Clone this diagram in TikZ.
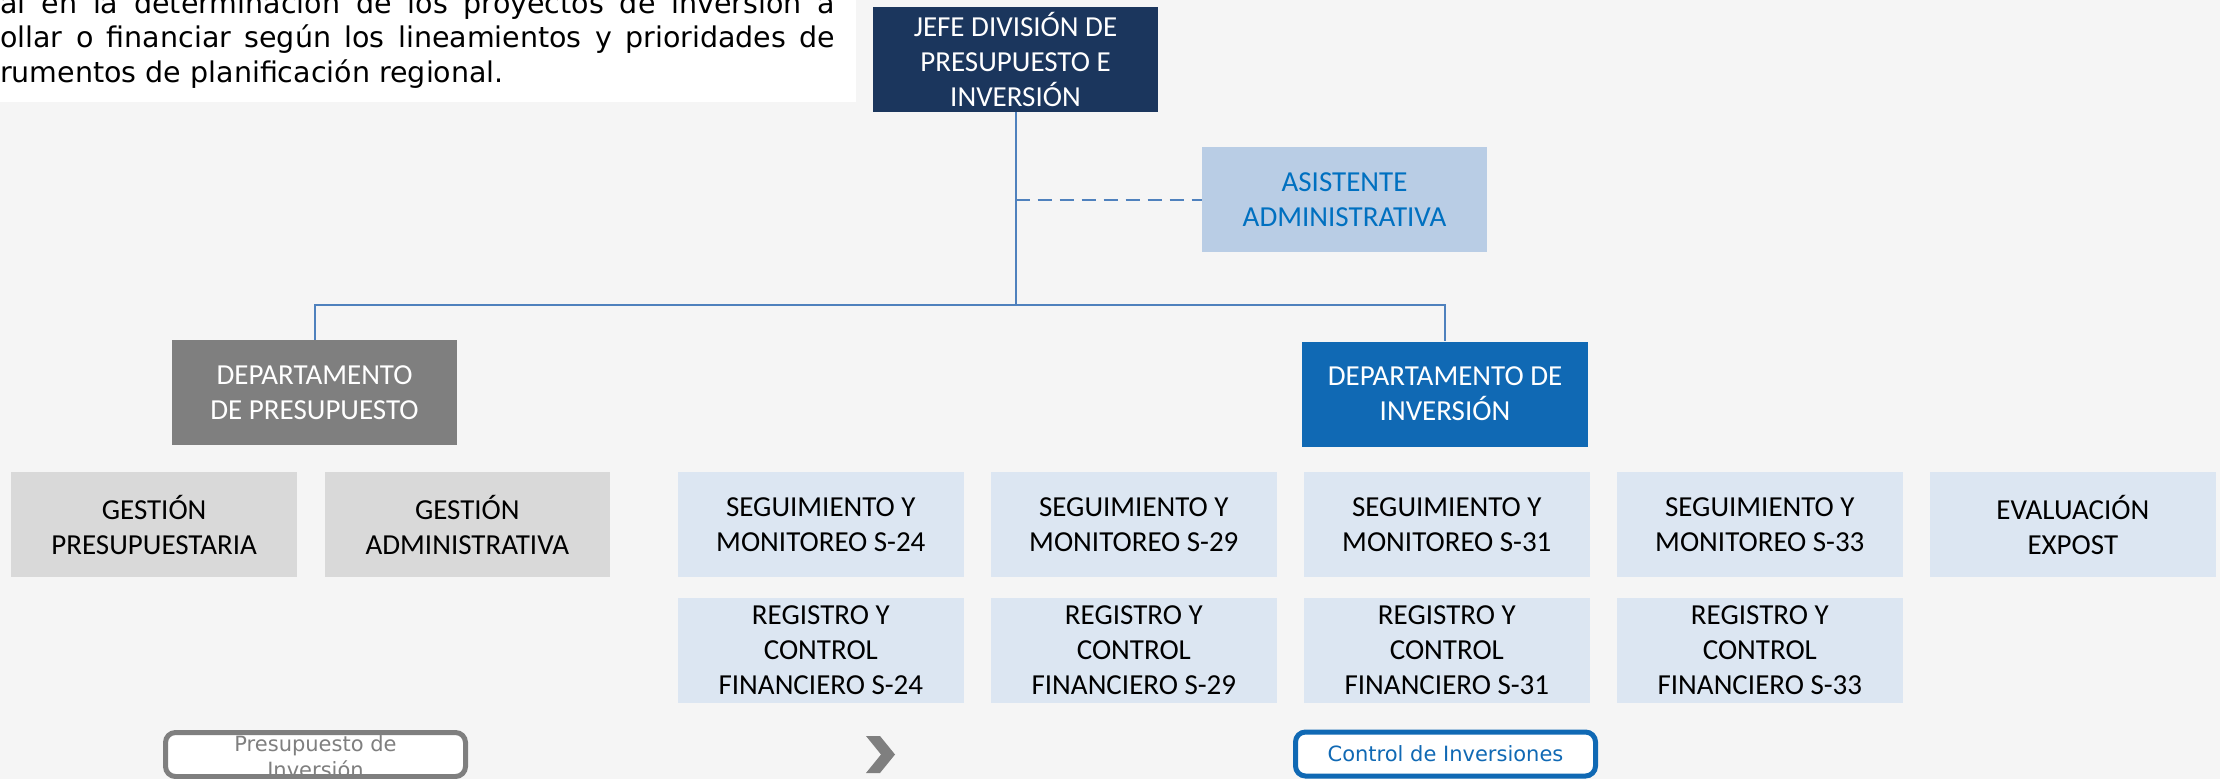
\documentclass[tikz,border=0pt]{standalone}
\usepackage{fontspec}
\setmainfont{Carlito}
\newfontfamily\verdana{DejaVu Sans}
\usepackage{tikz}
\usetikzlibrary{matrix}

\definecolor{fondo}{RGB}{245,245,245}
\definecolor{azuljefe}{RGB}{27,54,93}
\definecolor{celeste}{RGB}{185,205,229}
\definecolor{azultexto}{RGB}{0,112,192}
\definecolor{grisdep}{RGB}{127,127,127}
\definecolor{azuldep}{RGB}{16,105,180}
\definecolor{cajaazul}{RGB}{220,230,242}
\definecolor{cajagris}{RGB}{217,217,217}
\definecolor{linea}{RGB}{79,129,189}

\tikzset{
  caja/.style={minimum width=285.5pt, minimum height=105pt, inner sep=0pt, align=center, font=\fontsize{29}{35}\selectfont},
  seg/.style={caja, fill=cajaazul},
  ges/.style={caja, fill=cajagris},
  conector/.style={draw=linea, line width=2pt},
  discontinua/.style={dash pattern=on 14pt off 8pt},
  boton/.style={rounded corners=10pt, line width=5pt, fill=white, minimum width=300pt, minimum height=44pt, inner sep=0pt},
  rotulo/.style={align=center, font=\verdana\fontsize{21}{26}\selectfont}
}

\begin{document}
\begin{tikzpicture}[x=1pt, y=-1pt]
  \fill[fondo] (0,0) rectangle (2220,779);
  \useasboundingbox (0,0) rectangle (2220,779);
  \clip (0,0) rectangle (2220,779);
  % texto de la funcion
  \fill[white] (0,0) rectangle (856,102);
  \node[anchor=north west, inner sep=0pt, align=left, font=\verdana\fontsize{28.5}{34.5}\selectfont] (mision) at (0,-9.8) {%
    \makebox[835pt][s]{al en la determinación de los proyectos de inversión a}\\
    \makebox[835pt][s]{ollar o financiar según los lineamientos y prioridades de}\\
    rumentos de planificación regional.};
  % jefatura y departamentos
  \node[caja, fill=azuljefe, text=white] (jefe) at (1015.5,59.5) {JEFE DIVISIÓN DE\\PRESUPUESTO E\\INVERSIÓN};
  \node[caja, fill=celeste, text=azultexto] (asistente) at (1344.5,199.5) {ASISTENTE\\ADMINISTRATIVA};
  \node[caja, fill=grisdep, text=white] (deppres) at (314.5,392.5) {DEPARTAMENTO\\DE PRESUPUESTO};
  \node[caja, fill=azuldep, text=white] (depinv) at (1445,394) {DEPARTAMENTO DE\\INVERSIÓN};
  \coordinate (cruce) at (jefe.south |- 0,305);
  \coordinate (enlace) at (jefe.south |- asistente.west);
  \draw[conector] (jefe.south) -- (cruce);
  \draw[conector] (cruce) -| (deppres.north);
  \draw[conector] (cruce) -| (depinv.north);
  \draw[conector, discontinua] (enlace) -- (asistente.west);
  % unidades
  \matrix (m) [anchor=north west, inner sep=0pt, column sep=27.5pt, row sep=20pt] at (11,472)
  {
    \node[ges] (gespres) {GESTIÓN\\PRESUPUESTARIA}; &
    \node[ges] (gesadm) {GESTIÓN\\ADMINISTRATIVA}; &[40.5pt]
    \node[seg] (seg24) {SEGUIMIENTO Y\\MONITOREO S-24}; &
    \node[seg] (seg29) {SEGUIMIENTO Y\\MONITOREO S-29}; &
    \node[seg] (seg31) {SEGUIMIENTO Y\\MONITOREO S-31}; &
    \node[seg] (seg33) {SEGUIMIENTO Y\\MONITOREO S-33}; &
    \node[seg] (evaluacion) {EVALUACIÓN\\EXPOST}; \\
    & &
    \node[seg] (reg24) {REGISTRO Y\\CONTROL\\FINANCIERO S-24}; &
    \node[seg] (reg29) {REGISTRO Y\\CONTROL\\FINANCIERO S-29}; &
    \node[seg] (reg31) {REGISTRO Y\\CONTROL\\FINANCIERO S-31}; &
    \node[seg] (reg33) {REGISTRO Y\\CONTROL\\FINANCIERO S-33}; \\
  };
  % botones
  \node[boton, draw=grisdep] (marcopres) at (315.5,754.5) {};
  \node[rotulo, text=grisdep] (rotpres) at (315.5,757) {Presupuesto de\\Inversión};
  \fill[grisdep] (866,736) -- (880,736) -- (895,754.5) -- (880,773) -- (866,773) -- (881,754.5) -- cycle;
  \node[boton, draw=azuldep, text=azuldep, font=\verdana\fontsize{21}{26}\selectfont] (botoninv) at (1445.5,754) {Control de Inversiones};
\end{tikzpicture}
\end{document}
